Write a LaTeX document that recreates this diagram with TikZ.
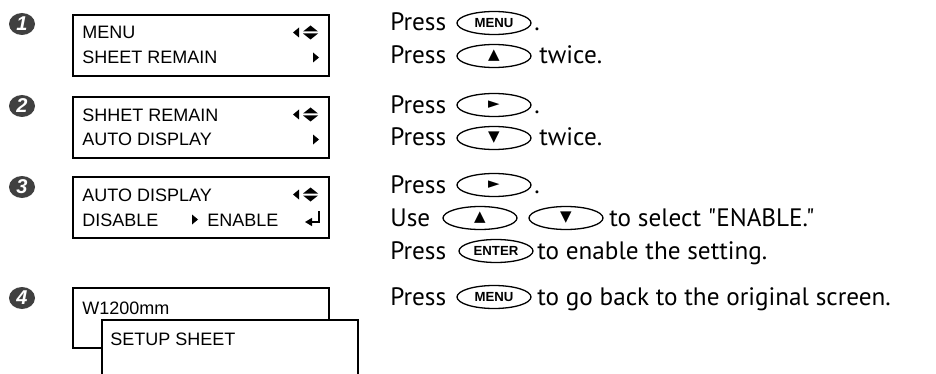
\documentclass[tikz,border=0pt]{standalone}
\usepackage{fontspec}
\usetikzlibrary{shapes.geometric,arrows.meta}

\newfontfamily\lcdfont{Liberation Sans}
\newfontfamily\txtfont{PT Sans}
\newfontfamily\symfont{DejaVu Sans}

\tikzset{
    lcdbox/.style={draw, line width=1pt},
    lcdtxt/.style={anchor=base west, inner sep=0pt, font=\lcdfont\fontsize{9}{9}\selectfont},
    txt/.style={anchor=base west, inner sep=0pt, font=\txtfont\fontsize{12.6}{12.6}\selectfont},
    keybtn/.style={ellipse, draw, line width=0.65pt, minimum width=37pt, minimum height=11.5pt, inner sep=0pt, font=\lcdfont\bfseries\fontsize{6.6}{6.6}\selectfont},
    keysym/.style={keybtn, font=\symfont\fontsize{7.5}{7.5}\selectfont},
    stepnum/.style={ellipse, fill=black!75, text=white, minimum width=13pt, minimum height=11pt, inner sep=0pt, font=\lcdfont\bfseries\itshape\fontsize{10}{10}\selectfont},
}

\begin{document}
\begin{tikzpicture}[x=0.5pt, y=-0.5pt]
    
    \useasboundingbox (0,0) rectangle (936,374);
    
    % step numbers
    \node[stepnum] (s1) at (22,24) {1};
    \node[stepnum] (s2) at (22,106) {2};
    \node[stepnum] (s3) at (22,187) {3};
    \node[stepnum] (s4) at (22,298) {4};
    
    % the three menu screens
    \foreach \t in {15,97,177} {
        \draw[lcdbox] (73,\t) rectangle (329,\t+61);
        \fill (293,\t+17.5) -- (299,\t+12.5) -- (299,\t+22.5) -- cycle;
        \fill (303,\t+16.5) -- (318,\t+16.5) -- (310.5,\t+10.5) -- cycle;
        \fill (303,\t+18.5) -- (318,\t+18.5) -- (310.5,\t+24.5) -- cycle;
    }
    \foreach \t in {15,97} {
        \fill (313,\t+37.5) -- (313,\t+47.5) -- (319,\t+42.5) -- cycle;
    }
    
    \node[lcdtxt] (m1a) at (82,39) {MENU};
    \node[lcdtxt] (m1b) at (82,64) {SHEET REMAIN};
    \node[lcdtxt] (m2a) at (82,121) {SHHET REMAIN};
    \node[lcdtxt] (m2b) at (82,146) {AUTO DISPLAY};
    \node[lcdtxt] (m3a) at (82,201) {AUTO DISPLAY};
    \node[lcdtxt] (m3b) at (82,226) {DISABLE};
    \fill (192,214.5) -- (192,224.5) -- (198,219.5) -- cycle;
    \node[lcdtxt] (m3c) at (207,226) {ENABLE};
    \draw[line width=0.7pt, -{Triangle[length=3.5pt,width=4pt]}] (319,211) -- (319,222) -- (305,222);
    
    % screen after going back
    \draw[lcdbox] (73,288) rectangle (329,348);
    \node[lcdtxt] (m4a) at (82,314) {W1200mm};
    \fill[white] (102,320) rectangle (358,374);
    \draw[lcdbox] (102,374) -- (102,320) -- (358,320) -- (358,374);
    \node[lcdtxt] (m4b) at (110,345) {SETUP SHEET};
    
    % instructions
    \node[txt] (t1a) at (390,31) {Press};
    \node[keybtn] (k1a) at (494,23) {MENU};
    \node[txt] (d1a) at (534,31) {.};
    \node[txt] (t1b) at (390,64) {Press};
    \node[keysym] (k1b) at (494,56) {▲};
    \node[txt] (d1b) at (539,64) {twice.};
    
    \node[txt] (t2a) at (390,113) {Press};
    \node[keysym] (k2a) at (494,105) {►};
    \node[txt] (d2a) at (534,113) {.};
    \node[txt] (t2b) at (390,146) {Press};
    \node[keysym] (k2b) at (494,138) {▼};
    \node[txt] (d2b) at (539,146) {twice.};
    
    \node[txt] (t3a) at (390,193) {Press};
    \node[keysym] (k3a) at (494,185) {►};
    \node[txt] (d3a) at (534,193) {.};
    \node[txt] (t3b) at (390,226) {Use};
    \node[keysym] (k3b) at (480,218) {▲};
    \node[keysym] (k3c) at (566,218) {▼};
    \node[txt] (d3b) at (609,226) {to select "ENABLE."};
    \node[txt] (t3c) at (390,259) {Press};
    \node[keybtn] (k3d) at (496,251) {ENTER};
    \node[txt] (d3c) at (537,259) {to enable the setting.};
    
    \node[txt] (t4a) at (390,305) {Press};
    \node[keybtn] (k4a) at (494,297) {MENU};
    \node[txt] (d4a) at (537,305) {to go back to the original screen.};
    
\end{tikzpicture}
\end{document}
